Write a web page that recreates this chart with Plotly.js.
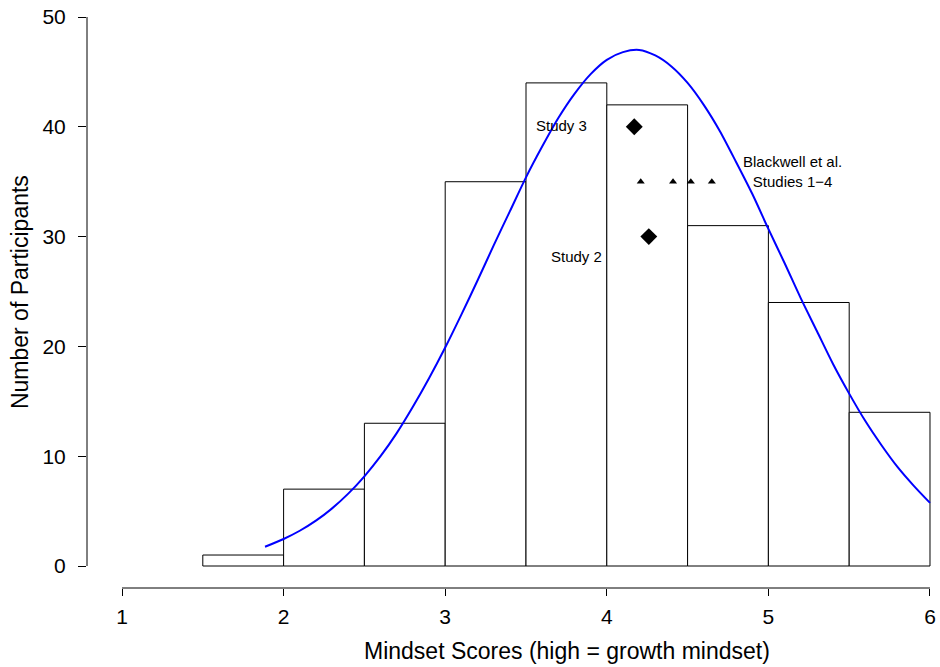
<!DOCTYPE html>
<html>
<head>
<meta charset="utf-8">
<script src="https://cdn.plot.ly/plotly-3.0.1.min.js"></script>
<style>html,body{margin:0;padding:0;background:#fff;}#chart{width:940px;height:667px;}</style>
</head>
<body>
<div id="chart"></div>
<script>
// Histogram bins (centres) and counts
const binCenters = [1.75, 2.25, 2.75, 3.25, 3.75, 4.25, 4.75, 5.25, 5.75];
const binCounts  = [1, 7, 13, 35, 44, 42, 31, 24, 14];
const binWidth = 0.5;

// Normal curve, points
const curveX = [1.885, 2.0, 2.1, 2.2, 2.3, 2.4, 2.5, 2.6, 2.7, 2.8, 2.9, 3.0, 3.1, 3.2, 3.3, 3.4, 3.5, 3.6, 3.7, 3.8, 3.9,
                4.0, 4.1, 4.2, 4.3, 4.4, 4.5, 4.6, 4.7, 4.8, 4.9, 5.0, 5.1, 5.2, 5.3, 5.4, 5.5, 5.6, 5.7, 5.8, 5.9, 6.0];
const curveY = [1.75, 2.46, 3.21, 4.13, 5.25, 6.59, 8.17, 10.0, 12.1, 14.5, 17.1, 19.9, 22.9, 26.0, 29.2, 32.3, 35.4, 38.2, 40.8, 43.0, 44.8,
                46.1, 46.8, 47.0, 46.5, 45.5, 44.0, 42.0, 39.6, 36.8, 33.9, 30.7, 27.6, 24.4, 21.4, 18.4, 15.7, 13.2, 11.0, 9.0, 7.3, 5.75];

// Study markers
const diamondX = [4.17, 4.26];
const diamondY = [40, 30];
const triangleX = [4.21, 4.41, 4.52, 4.65];
const triangleY = [35, 35, 35, 35];

// Labels
const labelText = ["Study 3", "Study 2", "Blackwell et al.<br>Studies 1\u22124"];
const labelX = [3.72, 3.81, 5.15];
const labelY = [40.1, 28.2, 35.9];

const xTicks = [1, 2, 3, 4, 5, 6];
const yTicks = [0, 10, 20, 30, 40, 50];
const xTitle = "Mindset Scores (high = growth mindset)";
const yTitle = "Number of Participants";

const FONT = "Liberation Sans, Arial, sans-serif";

const traces = [
  {
    type: "bar", x: binCenters, y: binCounts, width: binWidth,
    marker: {color: "#ffffff", line: {color: "#000000", width: 1}},
    hoverinfo: "skip", showlegend: false
  },
  {
    type: "scatter", mode: "lines", x: curveX, y: curveY,
    line: {color: "#0000ff", width: 2, shape: "spline", smoothing: 0.8},
    hoverinfo: "skip", showlegend: false
  },
  {
    type: "scatter", mode: "markers", x: diamondX, y: diamondY,
    marker: {symbol: "diamond", size: 13, color: "#000000"},
    showlegend: false
  },
  {
    type: "scatter", mode: "markers", x: triangleX, y: triangleY,
    marker: {symbol: "triangle-up", size: 7, color: "#000000"},
    showlegend: false
  }
];

const annotations = labelText.map((t, i) => ({
  x: labelX[i], y: labelY[i], xref: "x", yref: "y", text: t,
  showarrow: false, font: {family: FONT, size: 15, color: "#000"}, align: "center"
}));
annotations.push({
  x: 3.754, y: -0.109, xref: "x", yref: "paper", text: xTitle, showarrow: false,
  xanchor: "center", yanchor: "middle", font: {family: FONT, size: 23, color: "#000"}
});
annotations.push({
  x: -0.079, y: 0.512, xref: "paper", yref: "paper", text: yTitle, showarrow: false, textangle: -90,
  xanchor: "center", yanchor: "middle", font: {family: FONT, size: 23, color: "#000"}
});

const layout = {
  width: 940, height: 667,
  margin: {l: 87, r: 5, t: 10, b: 79},
  paper_bgcolor: "#fff", plot_bgcolor: "#fff",
  font: {family: FONT, color: "#000"},
  bargap: 0,
  xaxis: {
    range: [0.7834, 6.031], showgrid: false, zeroline: false, showline: false,
    tickmode: "array", tickvals: xTicks, ticks: "outside", ticklen: 7, tickcolor: "#000", tickwidth: 1,
    tickfont: {family: FONT, size: 21, color: "#000"}, ticklabelstandoff: 3
  },
  yaxis: {
    range: [-2.004, 50.64], showgrid: false, zeroline: false, showline: false,
    tickmode: "array", tickvals: yTicks, ticks: "outside", ticklen: 8, tickcolor: "#000", tickwidth: 1,
    tickfont: {family: FONT, size: 21, color: "#000"}, ticklabelstandoff: 8
  },
  shapes: [
    {type: "line", xref: "x", yref: "paper", x0: xTicks[0], x1: xTicks[xTicks.length-1], y0: 0, y1: 0, line: {color: "#000", width: 1}},
    {type: "line", xref: "paper", yref: "y", x0: 0, x1: 0, y0: yTicks[0], y1: yTicks[yTicks.length-1], line: {color: "#000", width: 1}}
  ],
  annotations: annotations
};

Plotly.newPlot("chart", traces, layout, {displayModeBar: false, staticPlot: true});
</script>
</body>
</html>
